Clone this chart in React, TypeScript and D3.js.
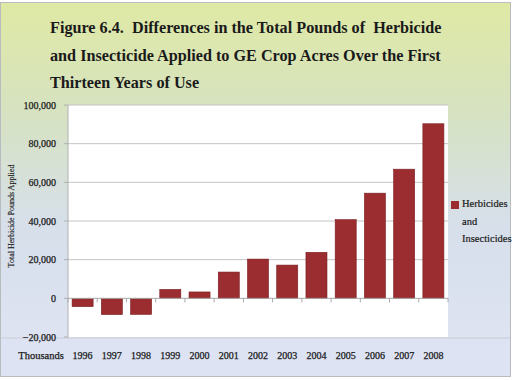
import React from "react";
import * as d3 from "d3";

const years = ["1996","1997","1998","1999","2000","2001","2002","2003","2004","2005","2006","2007","2008"];
const values = [-4300,-8400,-8300,4600,3300,13600,20300,17200,23800,40700,54400,66800,90300];
const yTicks = [-20000,0,20000,40000,60000,80000,100000];
const titleLines = [
  "Figure 6.4.  Differences in the Total Pounds of  Herbicide",
  "and Insecticide Applied to GE Crop Acres Over the First",
  "Thirteen Years of Use",
];
const legendLines = ["Herbicides","and","Insecticides"];
const yAxisTitle = "Total Herbicide Pounds Applied";
const xUnitLabel = "Thousands";

export default function App() {
  const W = 515, H = 380;
  const plotL = 68, plotR = 448, plotT = 105, plotB = 337;
  const x = d3.scaleBand<string>().domain(years).range([plotL, plotR]).paddingInner(0.28).paddingOuter(0.14);
  const y = d3.scaleLinear().domain([-20000, 100000]).range([plotB, plotT]);
  const fmt = d3.format(",");
  const font = "Liberation Serif, DejaVu Serif, serif";
  const step = x.step();
  const boundaries = d3.range(years.length + 1).map(i => plotL + x.paddingOuter() * step - (x.paddingInner() * step) / 2 + i * step);
  return (
    <svg width={W} height={H} style={{ position: "absolute", left: 0, top: 0 }} fontFamily={font}>
      <defs>
        <linearGradient id="bg" x1="0" y1="0" x2="0" y2="1">
          <stop offset="0" stopColor="#dfe9a4" />
          <stop offset="0.3" stopColor="#d6e2c2" />
          <stop offset="0.6" stopColor="#d7dfeb" />
          <stop offset="1" stopColor="#e0e5f4" />
        </linearGradient>
      </defs>
      <rect x={0} y={0} width={W} height={H} fill="#ffffff" />
      <rect x={0.5} y={2.5} width={510} height={374} fill="url(#bg)" stroke="#b8bcc0" strokeWidth={1} />
      <rect x={1} y={338} width={509} height={38} fill="#dde3f3" />
      <line x1={1} x2={510} y1={338} y2={338} stroke="#c8cdd6" />
      {titleLines.map((t, i) => (
        <text key={i} x={50} y={33 + i * 27.5} fontSize={16.2} fontWeight="bold" fill="#1a1a1a" style={{ whiteSpace: "pre" }}>{t}</text>
      ))}
      <rect x={plotL} y={plotT} width={plotR - plotL} height={plotB - plotT} fill="#ffffff" />
      {yTicks.map(t => (
        <g key={t}>
          {t !== 0 && t !== -20000 && (
            <line x1={plotL} x2={plotR} y1={y(t)} y2={y(t)} stroke="#c4c4c4" strokeWidth={1} />
          )}
          <line x1={plotL - 4} x2={plotL} y1={y(t)} y2={y(t)} stroke="#b0b0b0" />
          <text x={56} y={y(t)} dy="0.35em" textAnchor="end" fontSize={10} fill="#1a1a1a" stroke="#1a1a1a" strokeWidth={0.25}>{fmt(t)}</text>
        </g>
      ))}
      <line x1={plotL} x2={plotL} y1={plotT} y2={plotB} stroke="#b0b0b0" />
      {years.map((yr, i) => {
        const v = values[i];
        const top = y(Math.max(0, v));
        const h = Math.abs(y(v) - y(0));
        return (
          <rect key={yr} x={x(yr)} y={top} width={x.bandwidth()} height={h} fill="#9b2d30" stroke="#7a1f22" strokeWidth={0.6} />
        );
      })}
      <line x1={plotL} x2={plotR} y1={y(0)} y2={y(0)} stroke="#a8a8a8" />
      {boundaries.map((bx, i) => (
        <line key={i} x1={bx} x2={bx} y1={y(0)} y2={y(0) + 4} stroke="#a8a8a8" />
      ))}
      {years.map(yr => (
        <text key={yr} x={(x(yr) as number) + x.bandwidth() / 2} y={359} textAnchor="middle" fontSize={10} fill="#1a1a1a" stroke="#1a1a1a" strokeWidth={0.25}>{yr}</text>
      ))}
      <text x={41} y={359} textAnchor="middle" fontSize={10.5} fill="#1a1a1a" stroke="#1a1a1a" strokeWidth={0.25}>{xUnitLabel}</text>
      <text transform={`translate(14,${(plotT + plotB) / 2 - 5}) rotate(-90)`} textAnchor="middle" fontSize={8} fill="#1a1a1a" stroke="#1a1a1a" strokeWidth={0.15}>{yAxisTitle}</text>
      <rect x={451} y={201} width={8} height={8} fill="#9b2d30" />
      {legendLines.map((l, i) => (
        <text key={i} x={462} y={207 + i * 17.5} fontSize={10.5} fill="#1a1a1a" stroke="#1a1a1a" strokeWidth={0.2}>{l}</text>
      ))}
    </svg>
  );
}
